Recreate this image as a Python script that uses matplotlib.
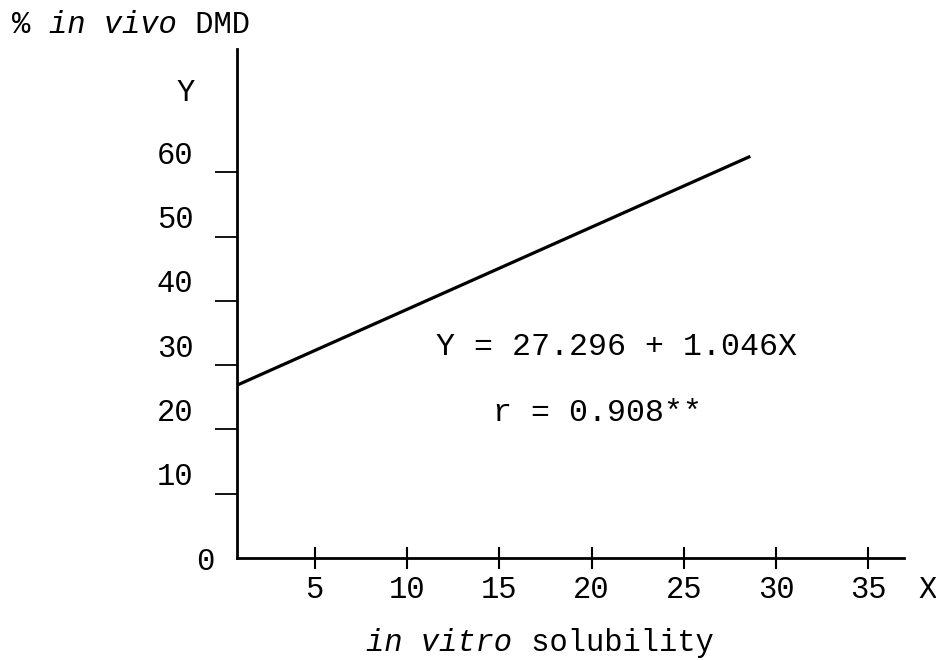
import matplotlib
matplotlib.use("Agg")
import matplotlib.pyplot as plt

# data
x_ticks = [5, 10, 15, 20, 25, 30, 35]
y_ticks = [0, 10, 20, 30, 40, 50, 60]
line_x = [0.8, 28.6]     # drawn regression line, end points
line_y = [26.9, 62.5]
equation = "Y = 27.296 + 1.046X"
r_text = "r = 0.908**"

FONT = "Liberation Mono"
fs = 22

plt.rcParams['font.family'] = [FONT, 'DejaVu Sans Mono']

fig = plt.figure(figsize=(9.36, 6.6), dpi=100)
ax = fig.add_axes([222.4 / 936, 102 / 660, 683 / 936, 509 / 660])
ax.set_xlim(0, 37)
ax.set_ylim(0, 79.2)

for s in ['top', 'right']:
    ax.spines[s].set_visible(False)
ax.spines['left'].set_position(('data', 0.8))
ax.spines['bottom'].set_bounds(0.8, 36.9)
ax.spines['left'].set_linewidth(2.0)
ax.spines['bottom'].set_linewidth(2.0)

ax.plot(line_x, line_y, color='black', lw=2.3, solid_capstyle='butt')

# x ticks cross the axis
ax.set_xticks(x_ticks)
ax.set_xticklabels([str(v) for v in x_ticks], fontsize=fs)
ax.tick_params(axis='x', direction='inout', length=16, width=1.5, pad=4)

# y ticks stick out to the left, labels sit above the marks
ax.set_yticks(y_ticks[1:])
ax.set_yticklabels([])
ax.tick_params(axis='y', direction='out', length=16, width=1.3)
for v in y_ticks[1:]:
    ax.annotate(str(v), xy=(0.8, v), xytext=(-31.5, 12), textcoords='offset points',
                ha='right', va='center', fontsize=fs)
ax.annotate(str(y_ticks[0]), xy=(0.8, 0), xytext=(-23, -3), textcoords='offset points',
            ha='center', va='center', fontsize=fs)

# axis letters
ax.text(38.2, -5.0, "X", ha='center', va='center', fontsize=fs, clip_on=False)
ax.text(-2.0, 72.3, "Y", ha='center', va='center', fontsize=fs, clip_on=False)

# equation and r
fig.text(436 / 936, 1 - 347 / 660, equation, ha='left', va='center', fontsize=22.8)
fig.text(493 / 936, 1 - 413 / 660, r_text, ha='left', va='center', fontsize=22.8)


def mixed(x0, y0, parts):
    # parts typed one after the other; monospace so advance = 0.6 em per char
    n = 0
    for txt, ital in parts:
        ax.annotate(txt, xy=(x0 / 936, 1 - y0 / 660), xycoords='figure fraction',
                    xytext=(n * 0.6 * fs, 0), textcoords='offset points',
                    ha='left', va='center', fontsize=fs,
                    style='italic' if ital else 'normal')
        n += len(txt)


mixed(12, 25, [("% ", False), ("in vivo", True), (" DMD", False)])
mixed(366, 643, [("in vitro", True), (" solubility", False)])

fig.savefig("out.png", dpi=100)
